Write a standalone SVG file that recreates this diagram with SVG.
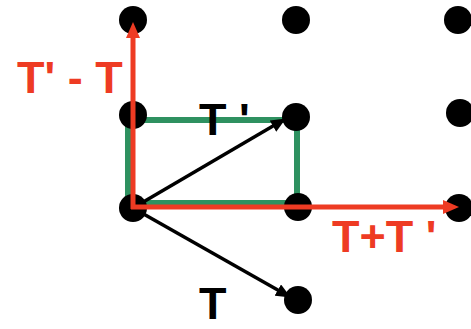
<svg xmlns="http://www.w3.org/2000/svg" width="471" height="329" viewBox="0 0 471 329">
<style>
.dot{fill:#000}
.green{fill:none;stroke:#2E9160;stroke-width:6}
.red{stroke:#EE3B23;stroke-width:5;fill:none}
.blk{stroke:#000;stroke-width:3.5;fill:none}
.lbl{font-family:"Liberation Sans",Arial,sans-serif;font-weight:bold;font-size:45px}
.r{fill:#EE3B23}
.k{fill:#000}
</style>
<defs>
<marker id="ah-red" markerUnits="userSpaceOnUse" markerWidth="16" markerHeight="14" refX="4" refY="7" orient="auto"><path d="M0,0 L16,7 L0,14 z" fill="#EE3B23"/></marker>
<marker id="ah-blk" markerUnits="userSpaceOnUse" markerWidth="15" markerHeight="13" refX="4" refY="6.5" orient="auto"><path d="M0,0 L15,6.5 L0,13 z" fill="#000"/></marker>
</defs>
<rect id="rect-green" class="green" x="128" y="120" width="169" height="83"/>
<g id="n-0-0"><circle class="dot" cx="133" cy="20" r="14"/></g>
<g id="n-1-0"><circle class="dot" cx="296" cy="20" r="14"/></g>
<g id="n-2-0"><circle class="dot" cx="458" cy="20" r="14"/></g>
<g id="n-0-1"><circle class="dot" cx="133" cy="115" r="14"/></g>
<g id="n-1-1"><circle class="dot" cx="296" cy="117" r="14"/></g>
<g id="n-2-1"><circle class="dot" cx="460" cy="113" r="14"/></g>
<g id="n-0-2"><circle class="dot" cx="133" cy="208" r="14"/></g>
<g id="n-1-2"><circle class="dot" cx="298" cy="207" r="14"/></g>
<g id="n-2-2"><circle class="dot" cx="459" cy="208" r="14"/></g>
<g id="n-1-3"><circle class="dot" cx="298" cy="300" r="14"/></g>
<g id="connectors">
<line class="blk" x1="133" y1="208" x2="276.4" y2="124.1" marker-end="url(#ah-blk)"/>
<line class="blk" x1="133" y1="208" x2="281.3" y2="292.1" marker-end="url(#ah-blk)"/>
<line class="red" x1="133" y1="209" x2="133" y2="34" marker-end="url(#ah-red)"/>
<line class="red" x1="131" y1="207" x2="447" y2="207" marker-end="url(#ah-red)"/>
</g>
<g id="labels">
<text class="lbl r" x="17" y="93">T' - T</text>
<text class="lbl k" x="199" y="135">T '</text>
<text class="lbl r" x="332" y="252">T+T '</text>
<text class="lbl k" x="199" y="319">T</text>
</g>
</svg>
